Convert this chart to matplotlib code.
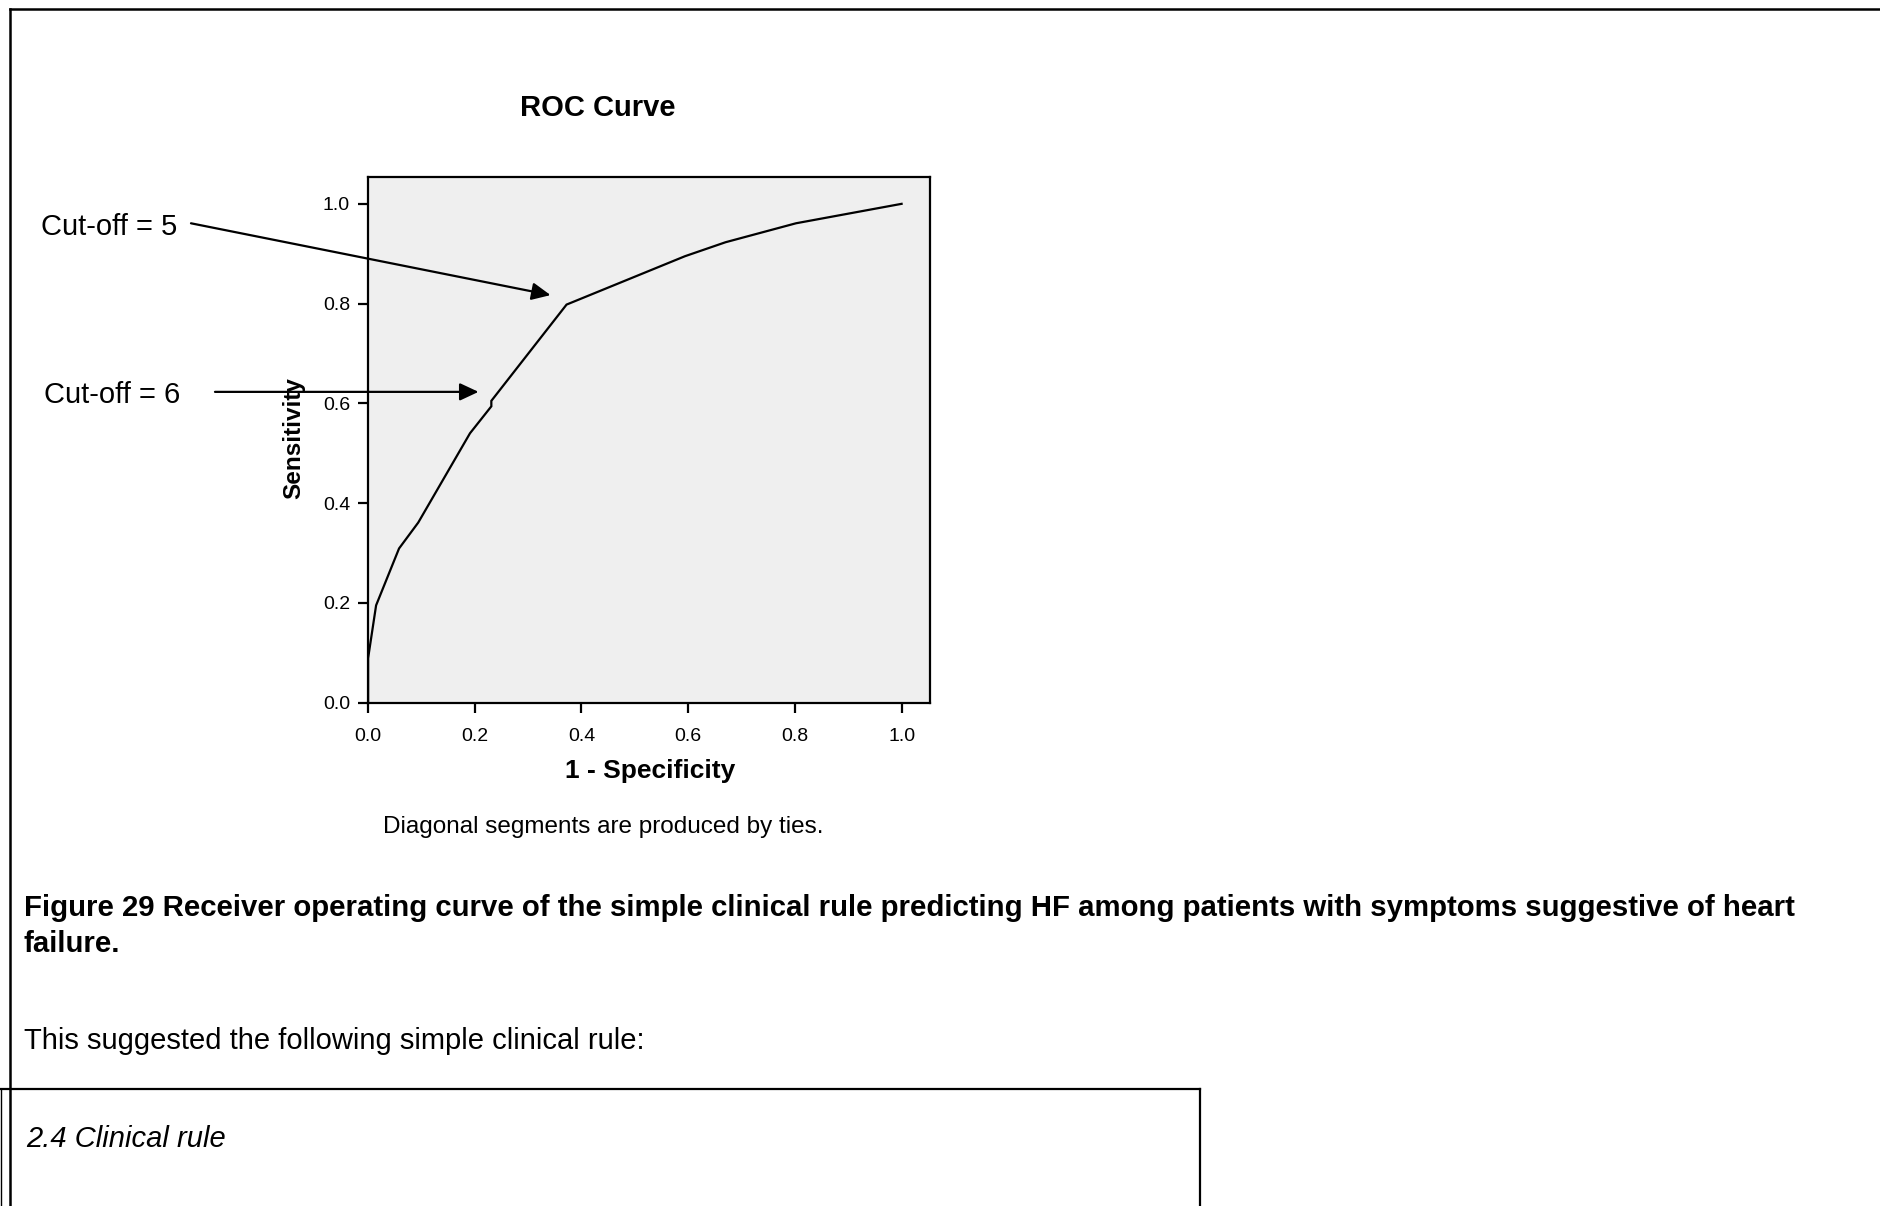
import matplotlib.pyplot as plt
from matplotlib.lines import Line2D

plt.rcParams['font.family'] = ['Liberation Sans', 'DejaVu Sans']

# ROC curve
fpr = [0.0, 0.0, 0.015, 0.058, 0.094, 0.191, 0.231, 0.231, 0.372, 0.594, 0.670, 0.802, 1.0]
tpr = [0.0, 0.089, 0.195, 0.309, 0.361, 0.540, 0.594, 0.605, 0.798, 0.895, 0.923, 0.961, 1.0]
ticks = [0.0, 0.2, 0.4, 0.6, 0.8, 1.0]
tick_labels = ['0.0', '0.2', '0.4', '0.6', '0.8', '1.0']

# cut-off arrows (data coords of the arrow tip and tail)
cutoff_labels = ['Cut-off = 5', 'Cut-off = 6']
cutoff_tips = [(0.342, 0.817), (0.207, 0.623)]
cutoff_tails = [(-0.332, 0.961), (-0.287, 0.623)]

title = 'ROC Curve'
xlabel = '1 - Specificity'
ylabel = 'Sensitivity'
note = 'Diagonal segments are produced by ties.'
caption1 = ('Figure 29 Receiver operating curve of the simple clinical rule predicting HF '
            'among patients with symptoms suggestive of heart')
caption2 = 'failure.'
body = 'This suggested the following simple clinical rule:'
boxtitle = '2.4 Clinical rule'

W, H = 1880, 1206


def fx(x):
    return x / W


def fy(y):
    return 1 - y / H


fig = plt.figure(figsize=(W / 100, H / 100), dpi=100)
fig.patch.set_facecolor('white')

# page frame lines
fig.add_artist(Line2D([fx(10), 1], [fy(9), fy(9)], color='black', lw=1.8))
fig.add_artist(Line2D([fx(10), fx(10)], [fy(9), 0], color='black', lw=1.8))
fig.add_artist(Line2D([0, fx(1200)], [fy(1089), fy(1089)], color='black', lw=1.6))
fig.add_artist(Line2D([fx(1200), fx(1200)], [fy(1089), 0], color='black', lw=1.6))
fig.add_artist(Line2D([fx(1), fx(1)], [fy(1089), 0], color='black', lw=1.0))

ax = fig.add_axes([fx(368.1), fy(702.6), (930.4 - 368.1) / W, (702.6 - 177.4) / H])
ax.set_facecolor('#efefef')
ax.plot(fpr, tpr, color='black', lw=1.6, solid_joinstyle='miter')
ax.set_xlim(0, 1.054)
ax.set_ylim(0, 1.053)
ax.set_xticks(ticks)
ax.set_xticklabels(tick_labels)
ax.set_yticks(ticks)
ax.set_yticklabels(tick_labels)
for s in ax.spines.values():
    s.set_linewidth(1.6)
ax.tick_params(direction='out', length=7, width=1.6, labelsize=14)
ax.tick_params(axis='x', pad=11)
ax.tick_params(axis='y', pad=6)

for lab, tip, tail in zip(cutoff_labels, cutoff_tips, cutoff_tails):
    ax.annotate('', xy=tip, xytext=tail, annotation_clip=False,
                arrowprops=dict(arrowstyle='-|>,head_length=0.6,head_width=0.28',
                                mutation_scale=19, color='black', lw=1.6,
                                shrinkA=0, shrinkB=0))

fig.text(fx(41), fy(227), cutoff_labels[0], fontsize=21, va='center', ha='left')
fig.text(fx(44), fy(395), cutoff_labels[1], fontsize=21, va='center', ha='left')

fig.text(fx(598), fy(108), title, fontsize=21, fontweight='bold', ha='center', va='center')
fig.text(fx(650), fy(771), xlabel, fontsize=19, fontweight='bold', ha='center', va='center')
fig.text(fx(294), fy(438), ylabel, fontsize=17.5, fontweight='bold', ha='center', va='center',
         rotation=90)
fig.text(fx(603), fy(827), note, fontsize=17.5, ha='center', va='center')

fig.text(fx(24), fy(908), caption1, fontsize=21.15, fontweight='bold', ha='left', va='center')
fig.text(fx(24), fy(944), caption2, fontsize=21.15, fontweight='bold', ha='left', va='center')
fig.text(fx(24), fy(1041), body, fontsize=21, ha='left', va='center')
fig.text(fx(26), fy(1139), boxtitle, fontsize=21, style='italic', ha='left', va='center')

fig.savefig('out.png', dpi=100)
